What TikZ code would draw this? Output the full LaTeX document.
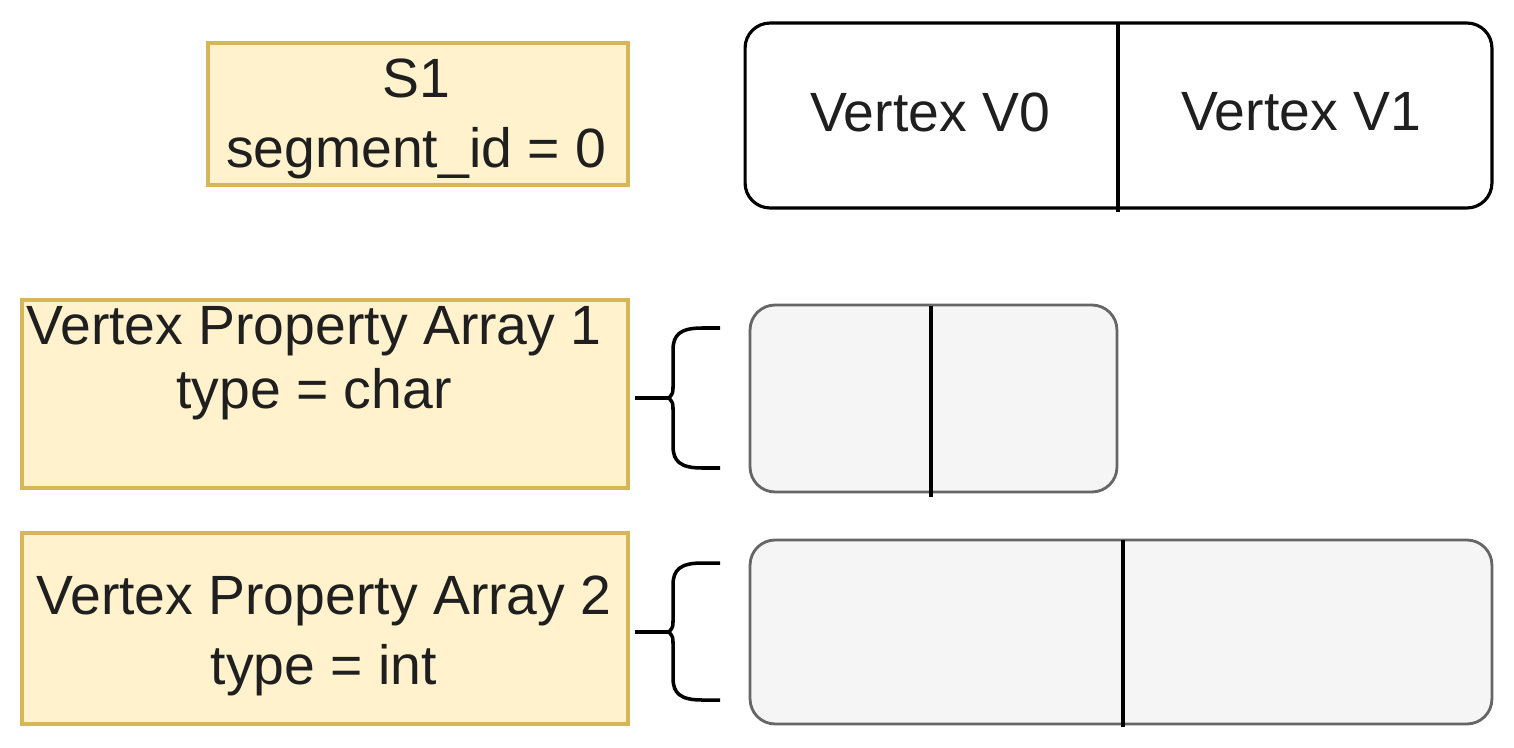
\documentclass[tikz,border=0pt]{standalone}
\usepackage{fontspec}
\setmainfont{Liberation Sans}
\begin{document}
\begin{tikzpicture}[x=0.02cm,y=-0.02cm,
  txt/.style={text=black!88, font=\fontsize{31.5}{39.7}\selectfont, inner sep=0pt, align=center},
  ybox/.style={draw=yborder, fill=yfill, line width=1.8pt, inner sep=0pt},
  vbox/.style={draw=black, fill=white, line width=1.8pt, rounded corners=0.5cm, inner sep=0pt},
  gbox/.style={draw=gborder, fill=gfill, line width=1.6pt, rounded corners=0.5cm, inner sep=0pt},
  divider/.style={draw=black, line width=2pt},
  bracepath/.style={draw=black, line width=2pt, line join=round}
]
\definecolor{yfill}{HTML}{FFF2CC}
\definecolor{yborder}{HTML}{D6B656}
\definecolor{gfill}{HTML}{F5F5F5}
\definecolor{gborder}{HTML}{666666}
\useasboundingbox[fill=white] (0,0) rectangle (1514,747);

% S1 box
\node[ybox, minimum width=8.4cm, minimum height=2.84cm] (s1) at (418,114) {};
\node[txt] (s1t) at (416,119) {S1\\segment\_id = 0};

% vertex box
\node[vbox, minimum width=14.94cm, minimum height=3.7cm] (vb) at (1118.5,115.5) {};
\coordinate (vbdt) at (1118,23);
\coordinate (vbdb) at (1118,212);
\draw[divider] (vbdt) -- (vbdb);
\node[txt] (v0) at (930,112) {Vertex V0};
\node[txt] (v1) at (1301,112) {Vertex V1};

% VPA 1
\node[ybox, minimum width=12.12cm, minimum height=3.76cm] (p1) at (325,394) {};
\node[txt, font=\fontsize{31.5}{36.5}\selectfont] (p1t) at (314,363) {Vertex Property Array 1\\type = char};
\node[gbox, minimum width=7.34cm, minimum height=3.74cm] (a1) at (933.5,398.5) {};
\coordinate (a1dt) at (931,306);
\coordinate (a1db) at (931,497);
\draw[divider] (a1dt) -- (a1db);

% brace 1
\coordinate (b1s) at (635,398);
\coordinate (b1m) at (669,398);
\coordinate (b1t) at (720,328);
\coordinate (b1b) at (720,468);
\draw[bracepath] (b1s) -- (b1m);
\draw[bracepath] (b1t) -- (702,328) .. controls (680,328) and (673,335) .. (673,350)
  -- (673,386) .. controls (673,393) .. (b1m)
  .. controls (673,403) .. (673,410) -- (673,446)
  .. controls (673,461) and (680,468) .. (702,468) -- (b1b);

% VPA 2
\node[ybox, minimum width=12.12cm, minimum height=3.82cm] (p2) at (325,628.5) {};
\node[txt] (p2t) at (324,636) {Vertex Property Array 2\\type = int};
\node[gbox, minimum width=14.84cm, minimum height=3.68cm] (a2) at (1121,632) {};
\coordinate (a2dt) at (1123,540);
\coordinate (a2db) at (1123,727);
\draw[divider] (a2dt) -- (a2db);

% brace 2
\coordinate (b2s) at (635,632);
\coordinate (b2m) at (669,632);
\coordinate (b2t) at (720,563);
\coordinate (b2b) at (720,700);
\draw[bracepath] (b2s) -- (b2m);
\draw[bracepath] (b2t) -- (702,563) .. controls (680,563) and (673,570) .. (673,585)
  -- (673,620) .. controls (673,627) .. (b2m)
  .. controls (673,637) .. (673,644) -- (673,678)
  .. controls (673,693) and (680,700) .. (702,700) -- (b2b);
\end{tikzpicture}
\end{document}
